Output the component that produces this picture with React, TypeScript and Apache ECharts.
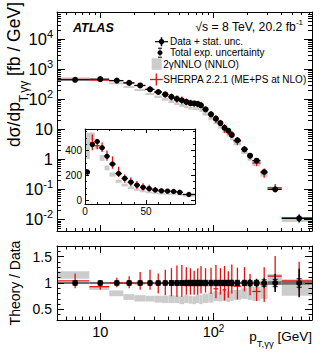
import React, { useEffect, useRef } from 'react';
import * as echarts from 'echarts';

const FONT = '"Liberation Sans", Arial, Helvetica, sans-serif';

// pT,γγ bins [GeV]
const binEdges = [0, 4, 8, 12, 16, 20, 25, 30, 35, 40, 45, 50, 55, 60, 65, 70, 75, 80, 90, 100, 110, 120, 130, 140, 150, 175, 200, 220, 260, 300, 400, 800];
const binCenters = [2, 6, 10, 14, 18, 22.5, 27.5, 32.5, 37.5, 42.5, 47.5, 52.5, 57.5, 62.5, 67.5, 72.5, 77.5, 85, 95, 105, 115, 125, 135, 145, 162.5, 187.5, 210, 240, 280, 350, 570];
// measured dσ/dpT [fb/GeV]
const dataXsec = [226, 445, 470, 420, 352, 290, 214, 175, 145, 121, 103, 93, 82, 75, 73, 70, 63, 46, 31.6, 22.6, 16.2, 11.3, 9.0, 6.5, 4.3, 2.15, 1.32, 0.9, 0.378, 0.1, 0.0108];
// relative stat. uncertainty
const statRel = [0.03, 0.02, 0.02, 0.02, 0.02, 0.02, 0.02, 0.02, 0.02, 0.025, 0.025, 0.025, 0.03, 0.03, 0.03, 0.03, 0.035, 0.03, 0.035, 0.04, 0.045, 0.05, 0.05, 0.06, 0.05, 0.06, 0.07, 0.08, 0.09, 0.17, 0.27];
// relative total exp. uncertainty
const sysRel = [0.05, 0.04, 0.04, 0.04, 0.04, 0.04, 0.04, 0.04, 0.04, 0.045, 0.045, 0.045, 0.05, 0.05, 0.05, 0.05, 0.05, 0.05, 0.05, 0.05, 0.05, 0.05, 0.05, 0.05, 0.05, 0.05, 0.05, 0.05, 0.06, 0.07, 0.08];
// dark band half-width around 1 in ratio
const bandRel = [0.02, 0.02, 0.02, 0.02, 0.02, 0.02, 0.02, 0.02, 0.02, 0.02, 0.02, 0.02, 0.02, 0.02, 0.02, 0.02, 0.02, 0.02, 0.02, 0.02, 0.02, 0.02, 0.02, 0.02, 0.02, 0.025, 0.025, 0.03, 0.03, 0.035, 0.035];
// SHERPA / data
const sherpaRatio = [0.95, 1.04, 0.93, 1.0, 1.0, 0.99, 1.0, 0.99, 1.0, 1.0, 1.0, 0.99, 1.0, 1.0, 0.98, 1.0, 1.0, 1.0, 0.99, 0.89, 0.98, 0.87, 0.97, 1.0, 0.94, 1.02, 0.97, 0.84, 0.97, 1.13, 1.04];
const sherpaUp = [0.05, 0.14, 0.09, 0.1, 0.13, 0.22, 0.25, 0.19, 0.25, 0.28, 0.33, 0.35, 0.3, 0.28, 0.25, 0.28, 0.32, 0.28, 0.3, 0.45, 0.3, 0.45, 0.25, 0.35, 0.35, 0.28, 0.2, 0.15, 0.33, 0.38, 0.36];
const sherpaDn = [0.05, 0.14, 0.06, 0.08, 0.1, 0.12, 0.13, 0.19, 0.23, 0.25, 0.26, 0.25, 0.22, 0.22, 0.2, 0.22, 0.2, 0.18, 0.2, 0.18, 0.2, 0.2, 0.25, 0.2, 0.25, 0.18, 0.2, 0.18, 0.33, 0.26, 0.17];
// 2γNNLO / data band
const nnloLo = [1.46, 1.08, 0.87, 0.75, 0.68, 0.65, 0.65, 0.63, 0.62, 0.62, 0.62, 0.6, 0.62, 0.61, 0.6, 0.62, 0.6, 0.62, 0.63, 0.66, 0.65, 0.66, 0.64, 0.66, 0.68, 0.7, 0.68, 0.66, 0.7, 1.03, 0.76];
const nnloHi = [2.39, 1.22, 0.93, 0.86, 0.79, 0.77, 0.76, 0.76, 0.76, 0.77, 0.76, 0.75, 0.77, 0.76, 0.75, 0.78, 0.77, 0.8, 0.82, 0.85, 0.83, 0.86, 0.84, 0.86, 0.87, 0.9, 0.95, 0.93, 0.97, 1.17, 1.07];

// axis ticks / labels
const xMajor = [10, 100];
const xMinor = [5, 6, 7, 8, 9, 20, 30, 40, 50, 60, 70, 80, 90, 200, 300, 400, 500, 600, 700];
const yMainMajor = [0.01, 0.1, 1, 10, 100, 1000, 10000];
const yMainMinor: number[] = [];
for (let d = -3; d <= 4; d++) for (let k = 2; k <= 9; k++) yMainMinor.push(Number((k * Math.pow(10, d)).toPrecision(3)));
const ratioYMajor = [0.5, 1, 1.5];
const ratioYMinor = [0.4, 0.6, 0.7, 0.8, 0.9, 1.1, 1.2, 1.3, 1.4, 1.6];
const insetXMajor = [0, 50];
const insetXMinor = [10, 20, 30, 40, 60, 70, 80];
const insetYMajor = [0, 200, 400];
const insetYMinor = [50, 100, 150, 250, 300, 350, 450, 500, 550];

const X_MIN = 4.15, X_MAX = 740;
const Y_MIN = 0.0041, Y_MAX = 81000;
const R_MIN = 0.3, R_MAX = 1.7;
const I_XMIN = 0, I_XMAX = 90, I_YMIN = -30, I_YMAX = 570;

const RED = '#e8100f';
const LGRAY = '#cccccc';
const DGRAY = '#6e6e6e';

const allIdx = binCenters.map((_, i) => i);
const mainIdx = allIdx.filter((i) => binEdges[i] >= 4);
const insetIdx = allIdx.filter((i) => binEdges[i + 1] <= 90);

const powLabel = (v: number) => {
  const e = Math.round(Math.log10(v));
  if (e === 0) return '{b|1}';
  if (e === 1) return '{b|10}';
  return '{b|10}{s|' + e + '}';
};

const mkAxis = (o: any) => ({
  gridIndex: o.grid,
  type: o.type,
  position: o.pos,
  min: o.min,
  max: o.max,
  ...(o.type === 'log' ? { logBase: 10 } : {}),
  axisLine: { show: !!o.line, onZero: false, lineStyle: { color: '#000', width: 1 } },
  axisTick: { show: true, inside: true, length: o.len, customValues: o.ticks, lineStyle: { color: '#000', width: 1 } },
  axisLabel: o.label ? { show: true, ...o.label } : { show: false },
  splitLine: { show: false },
  splitArea: { show: false },
  minorTick: { show: false },
  minorSplitLine: { show: false },
  axisPointer: { show: false },
  silent: true,
  z: 5,
});

const axisSet = (grid: number, type: string, min: number, max: number, major: number[], minor: number[], lenMaj: number, lenMin: number, first: string, second: string, label?: any) => [
  mkAxis({ grid, type, pos: first, min, max, ticks: major, len: lenMaj, line: true, label }),
  mkAxis({ grid, type, pos: first, min, max, ticks: minor, len: lenMin }),
  mkAxis({ grid, type, pos: second, min, max, ticks: major, len: lenMaj, line: true }),
  mkAxis({ grid, type, pos: second, min, max, ticks: minor, len: lenMin }),
];

// drawing helpers for custom series
const seg = (api: any, a: number[], b: number[], style: any) => {
  const p = api.coord(a), q = api.coord(b);
  return { type: 'line', shape: { x1: p[0], y1: p[1], x2: q[0], y2: q[1] }, style };
};
const box = (api: any, x0: number, x1: number, y0: number, y1: number, fill: string) => {
  const p = api.coord([x0, y1]), q = api.coord([x1, y0]);
  return { type: 'rect', shape: { x: p[0], y: p[1], width: q[0] - p[0], height: q[1] - p[1] }, style: { fill } };
};
const dot = (api: any, x: number, y: number, r: number) => {
  const p = api.coord([x, y]);
  return { type: 'circle', shape: { cx: p[0], cy: p[1], r }, style: { fill: '#000' } };
};

const custom = (axis: number, idx: number[], yOf: (i: number) => number, render: (i: number, api: any) => any, z: number) => ({
  type: 'custom',
  xAxisIndex: axis,
  yAxisIndex: axis,
  clip: true,
  silent: true,
  z,
  data: idx.map((i) => [binCenters[i], yOf(i)]),
  renderItem: (params: any, api: any) => render(idx[params.dataIndex], api),
});

const redS = { stroke: RED, lineWidth: 1.3 };
const blkS = { stroke: '#000', lineWidth: 1.2 };
const blkV = { stroke: '#000', lineWidth: 1.5 };

const absSeries = (axis: number, idx: number[], r: number) => [
  custom(axis, idx, (i) => dataXsec[i], (i, api) => box(api, binEdges[i], binEdges[i + 1], dataXsec[i] * nnloLo[i], dataXsec[i] * nnloHi[i], LGRAY), 2),
  custom(axis, idx, (i) => dataXsec[i], (i, api) => {
    const d = dataXsec[i], c = binCenters[i];
    return {
      type: 'group',
      children: [
        seg(api, [binEdges[i], d * sherpaRatio[i]], [binEdges[i + 1], d * sherpaRatio[i]], redS),
        seg(api, [c, d * (sherpaRatio[i] - sherpaDn[i])], [c, d * (sherpaRatio[i] + sherpaUp[i])], redS),
      ],
    };
  }, 3),
  custom(axis, idx, (i) => dataXsec[i], (i, api) => {
    const d = dataXsec[i], c = binCenters[i];
    return {
      type: 'group',
      children: [
        seg(api, [binEdges[i], d], [binEdges[i + 1], d], blkS),
        seg(api, [c, d * (1 - statRel[i])], [c, d * (1 + statRel[i])], blkV),
        dot(api, c, d, r),
      ],
    };
  }, 4),
];

const ratioSeries = (axis: number, idx: number[]) => [
  custom(axis, idx, () => 1, (i, api) => box(api, binEdges[i], binEdges[i + 1], nnloLo[i], nnloHi[i], LGRAY), 2),
  custom(axis, idx, () => 1, (i, api) => box(api, binEdges[i], binEdges[i + 1], 1 - bandRel[i], 1 + bandRel[i], DGRAY), 2),
  custom(axis, idx, () => 1, (i, api) => {
    const c = binCenters[i];
    return {
      type: 'group',
      children: [
        seg(api, [binEdges[i], sherpaRatio[i]], [binEdges[i + 1], sherpaRatio[i]], redS),
        seg(api, [c, sherpaRatio[i] - sherpaDn[i]], [c, sherpaRatio[i] + sherpaUp[i]], redS),
      ],
    };
  }, 3),
  custom(axis, idx, () => 1, (i, api) => {
    const c = binCenters[i];
    const lo = api.coord([c, 1 - sysRel[i]]);
    const hi = api.coord([c, 1 + sysRel[i]]);
    const dash = { stroke: '#000', lineWidth: 1, lineDash: [2, 2] };
    const cap = { stroke: '#000', lineWidth: 1 };
    return {
      type: 'group',
      children: [
        { type: 'line', shape: { x1: lo[0], y1: lo[1], x2: hi[0], y2: hi[1] }, style: dash },
        { type: 'line', shape: { x1: lo[0] - 2.5, y1: lo[1], x2: lo[0] + 2.5, y2: lo[1] }, style: cap },
        { type: 'line', shape: { x1: hi[0] - 2.5, y1: hi[1], x2: hi[0] + 2.5, y2: hi[1] }, style: cap },
      ],
    };
  }, 4),
  custom(axis, idx, () => 1, (i, api) => {
    const c = binCenters[i];
    return {
      type: 'group',
      children: [seg(api, [c, 1 - statRel[i]], [c, 1 + statRel[i]], blkV), dot(api, c, 1, 3)],
    };
  }, 5),
];

// graphic helpers (titles, legend)
const gLine = (x1: number, y1: number, x2: number, y2: number, stroke: string, lineWidth: number, lineDash?: number[]) => ({
  type: 'line', z: 50, shape: { x1, y1, x2, y2 }, style: { stroke, lineWidth, lineDash },
});
const gText = (x: number, y: number, text: string, fontSize: number, extra: any = {}) => ({
  type: 'text', z: 50, x, y,
  style: { text, fontSize, fontFamily: FONT, fill: '#000', align: 'left', verticalAlign: 'middle', ...extra },
});

const legendY = [41.7, 52.7, 64, 79.5];

const graphic = [
  // y title main
  {
    type: 'text', z: 50, x: 14, y: 2, rotation: Math.PI / 2,
    style: {
      text: '{a|dσ/dp}{s|T,γγ}{a| [fb / GeV]}',
      align: 'right', verticalAlign: 'middle', fill: '#000', fontFamily: FONT,
      rich: {
        a: { fontSize: 17.5, lineHeight: 32, fill: '#000', fontFamily: FONT },
        s: { fontSize: 12, lineHeight: 12, verticalAlign: 'bottom', fill: '#000', fontFamily: FONT },
      },
    },
  },
  // y title ratio
  {
    type: 'text', z: 50, x: 15, y: 283, rotation: Math.PI / 2,
    style: { text: 'Theory / Data', fontSize: 14, fontFamily: FONT, fill: '#000', align: 'center', verticalAlign: 'middle' },
  },
  // x title
  {
    type: 'text', z: 50, x: 312, y: 336.5,
    style: {
      text: '{a|p}{s|T,γγ}{a| [GeV]}',
      align: 'right', verticalAlign: 'middle', fill: '#000', fontFamily: FONT,
      rich: {
        a: { fontSize: 13.5, lineHeight: 24, fill: '#000', fontFamily: FONT },
        s: { fontSize: 9.5, lineHeight: 10, verticalAlign: 'bottom', fill: '#000', fontFamily: FONT },
      },
    },
  },
  gText(73, 28, 'ATLAS', 12.5, { fontWeight: 'bold', fontStyle: 'italic' }),
  {
    type: 'text', z: 50, x: 303, y: 26.5,
    style: {
      text: '{a|√s = 8 TeV, 20.2 fb}{s|-1}',
      align: 'right', verticalAlign: 'middle', fill: '#000', fontFamily: FONT,
      rich: {
        a: { fontSize: 12.2, lineHeight: 17, fill: '#000', fontFamily: FONT },
        s: { fontSize: 8, lineHeight: 8, verticalAlign: 'top', fill: '#000', fontFamily: FONT },
      },
    },
  },
  // legend row 1: data + stat
  gLine(155, legendY[0], 168, legendY[0], '#000', 1.2),
  gLine(161.5, legendY[0] - 4.5, 161.5, legendY[0] + 4.5, '#000', 1.5),
  { type: 'circle', z: 51, shape: { cx: 161.5, cy: legendY[0], r: 2.7 }, style: { fill: '#000' } },
  gText(170, legendY[0], 'Data + stat. unc.', 10),
  // legend row 2: total exp
  gLine(160, legendY[1] - 4.5, 160, legendY[1] + 4.5, '#000', 1, [1.5, 1.5]),
  gLine(158, legendY[1] - 4.5, 162, legendY[1] - 4.5, '#000', 1),
  gLine(158, legendY[1] + 4.5, 162, legendY[1] + 4.5, '#000', 1),
  { type: 'circle', z: 51, shape: { cx: 160, cy: legendY[1], r: 2.5 }, style: { fill: '#000' } },
  gText(170, legendY[1], 'Total exp. uncertainty', 10),
  // legend row 3: NNLO
  { type: 'rect', z: 50, shape: { x: 151.7, y: legendY[2] - 5.7, width: 10, height: 11.5 }, style: { fill: LGRAY } },
  gText(163.3, legendY[2], '2γNNLO (NNLO)', 10),
  // legend row 4: SHERPA
  gLine(150, legendY[3], 162.7, legendY[3], RED, 1.3),
  gLine(156.3, legendY[3] - 6, 156.3, legendY[3] + 6, RED, 1.3),
  gText(163.3, legendY[3], 'SHERPA 2.2.1 (ME+PS at NLO)', 10),
];

const buildOption = () => ({
  animation: false,
  backgroundColor: '#fff',
  textStyle: { fontFamily: FONT, color: '#000' },
  grid: [
    { left: 57, top: 12, width: 255, height: 219, outerBoundsMode: 'none', containLabel: false },
    { left: 57, top: 246, width: 255, height: 74, outerBoundsMode: 'none', containLabel: false },
    { left: 85, top: 129, width: 110, height: 75, outerBoundsMode: 'none', containLabel: false, show: true, backgroundColor: '#fff', borderWidth: 0, z: 1 },
  ],
  xAxis: [
    ...axisSet(0, 'log', X_MIN, X_MAX, xMajor, xMinor, 6, 3, 'bottom', 'top'),
    ...axisSet(1, 'log', X_MIN, X_MAX, xMajor, xMinor, 7, 3.5, 'bottom', 'top', {
      customValues: xMajor,
      formatter: powLabel,
      margin: 3,
      rich: {
        b: { fontSize: 14.5, lineHeight: 18, color: '#000', fontFamily: FONT },
        s: { fontSize: 10, lineHeight: 10, verticalAlign: 'top', color: '#000', fontFamily: FONT },
      },
    }),
    ...axisSet(2, 'value', I_XMIN, I_XMAX, insetXMajor, insetXMinor, 4, 2, 'bottom', 'top', {
      customValues: insetXMajor, fontSize: 10, margin: 2, color: '#000', fontFamily: FONT,
    }),
  ],
  yAxis: [
    ...axisSet(0, 'log', Y_MIN, Y_MAX, yMainMajor, yMainMinor, 8, 4, 'left', 'right', {
      customValues: yMainMajor,
      formatter: powLabel,
      margin: 4,
      rich: {
        b: { fontSize: 16.5, lineHeight: 21, color: '#000', fontFamily: FONT },
        s: { fontSize: 11, lineHeight: 11, verticalAlign: 'top', color: '#000', fontFamily: FONT },
      },
    }),
    ...axisSet(1, 'value', R_MIN, R_MAX, ratioYMajor, ratioYMinor, 7, 3.5, 'left', 'right', {
      customValues: ratioYMajor, fontSize: 14, margin: 5, color: '#000', fontFamily: FONT,
      formatter: (v: number) => String(v),
    }),
    ...axisSet(2, 'value', I_YMIN, I_YMAX, insetYMajor, insetYMinor, 4, 2, 'left', 'right', {
      customValues: insetYMajor, fontSize: 10, margin: 3, color: '#000', fontFamily: FONT,
    }),
  ],
  series: [
    ...absSeries(0, mainIdx, 3),
    ...ratioSeries(4, mainIdx),
    ...absSeries(8, insetIdx, 2.7),
  ],
  graphic,
});

export default function App() {
  const ref = useRef<HTMLDivElement>(null);
  useEffect(() => {
    if (!ref.current) return;
    const chart = echarts.init(ref.current, null, { renderer: 'svg' });
    chart.setOption(buildOption() as any);
    return () => chart.dispose();
  }, []);
  return <div ref={ref} style={{ position: 'fixed', left: 0, top: 0, width: 332, height: 358, background: '#fff' }} />;
}
